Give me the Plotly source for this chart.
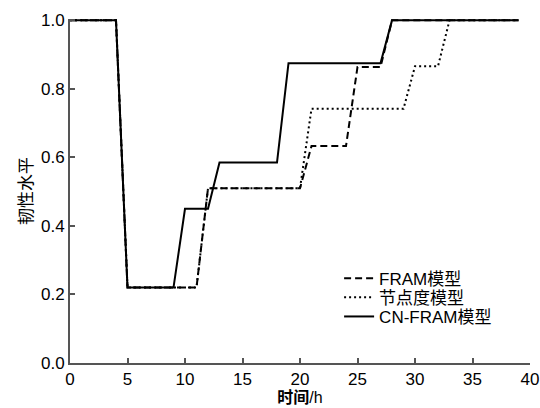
import plotly.graph_objects as go

# Data
fram_x = [0, 4, 5, 11, 12, 20, 21, 24, 25, 27, 28, 39]
fram_y = [1.0, 1.0, 0.22, 0.22, 0.51, 0.51, 0.633, 0.633, 0.864, 0.864, 1.0, 1.0]

node_x = [0, 4, 5, 11, 12, 20, 21, 29, 30, 32, 33, 39]
node_y = [1.0, 1.0, 0.22, 0.22, 0.51, 0.51, 0.742, 0.742, 0.866, 0.866, 1.0, 1.0]

cn_x = [0, 4, 5, 9, 10, 12, 13, 18, 19, 27, 28, 39]
cn_y = [1.0, 1.0, 0.22, 0.22, 0.45, 0.45, 0.585, 0.585, 0.875, 0.875, 1.0, 1.0]

names = ["FRAM模型", "节点度模型", "CN-FRAM模型"]
x_ticks = [0, 5, 10, 15, 20, 25, 30, 35, 40]
y_ticks = [0.0, 0.2, 0.4, 0.6, 0.8, 1.0]

font_fam = "Liberation Sans, Noto Sans CJK SC, sans-serif"

fig = go.Figure()
fig.add_trace(go.Scatter(x=fram_x, y=fram_y, mode="lines", name=names[0], legend="legend",
                         line=dict(color="black", width=2, dash="7px,4px")))
fig.add_trace(go.Scatter(x=node_x, y=node_y, mode="lines", name=names[1], legend="legend2",
                         line=dict(color="black", width=2, dash="2px,3px")))
fig.add_trace(go.Scatter(x=cn_x, y=cn_y, mode="lines", name=names[2], legend="legend3",
                         line=dict(color="black", width=2)))

axis_common = dict(showgrid=False, zeroline=False, showline=True, linecolor="#555",
                   linewidth=2, ticks="inside", ticklen=5, tickwidth=1.5, tickcolor="#555",
                   automargin=False, ticklabeloverflow="allow",
                   tickfont=dict(family=font_fam, size=17, color="black"))

leg_common = dict(x=0.585, xanchor="left", yanchor="middle", bgcolor="rgba(0,0,0,0)",
                  itemwidth=30, font=dict(family=font_fam, size=17, color="black"))

fig.update_layout(
    width=540, height=408,
    margin=dict(l=70, r=10, t=19, b=45),
    paper_bgcolor="white", plot_bgcolor="white",
    showlegend=True,
    legend=dict(y=0.245, **leg_common),
    legend2=dict(y=0.19, **leg_common),
    legend3=dict(y=0.134, **leg_common),
    xaxis=dict(range=[0, 40], tickvals=x_ticks, ticktext=[str(v) for v in x_ticks],
               title=dict(text="<b>时间</b>/h", font=dict(family=font_fam, size=16, color="black"),
                          standoff=2),
               **axis_common),
    yaxis=dict(range=[0, 1.004], tickvals=y_ticks, ticktext=[f"{v:.1f}" for v in y_ticks],
               title=dict(text="韧性水平", font=dict(family="Noto Sans CJK SC", size=17, color="black"),
                          standoff=4),
               **axis_common),
)

fig.write_html("out.html")
